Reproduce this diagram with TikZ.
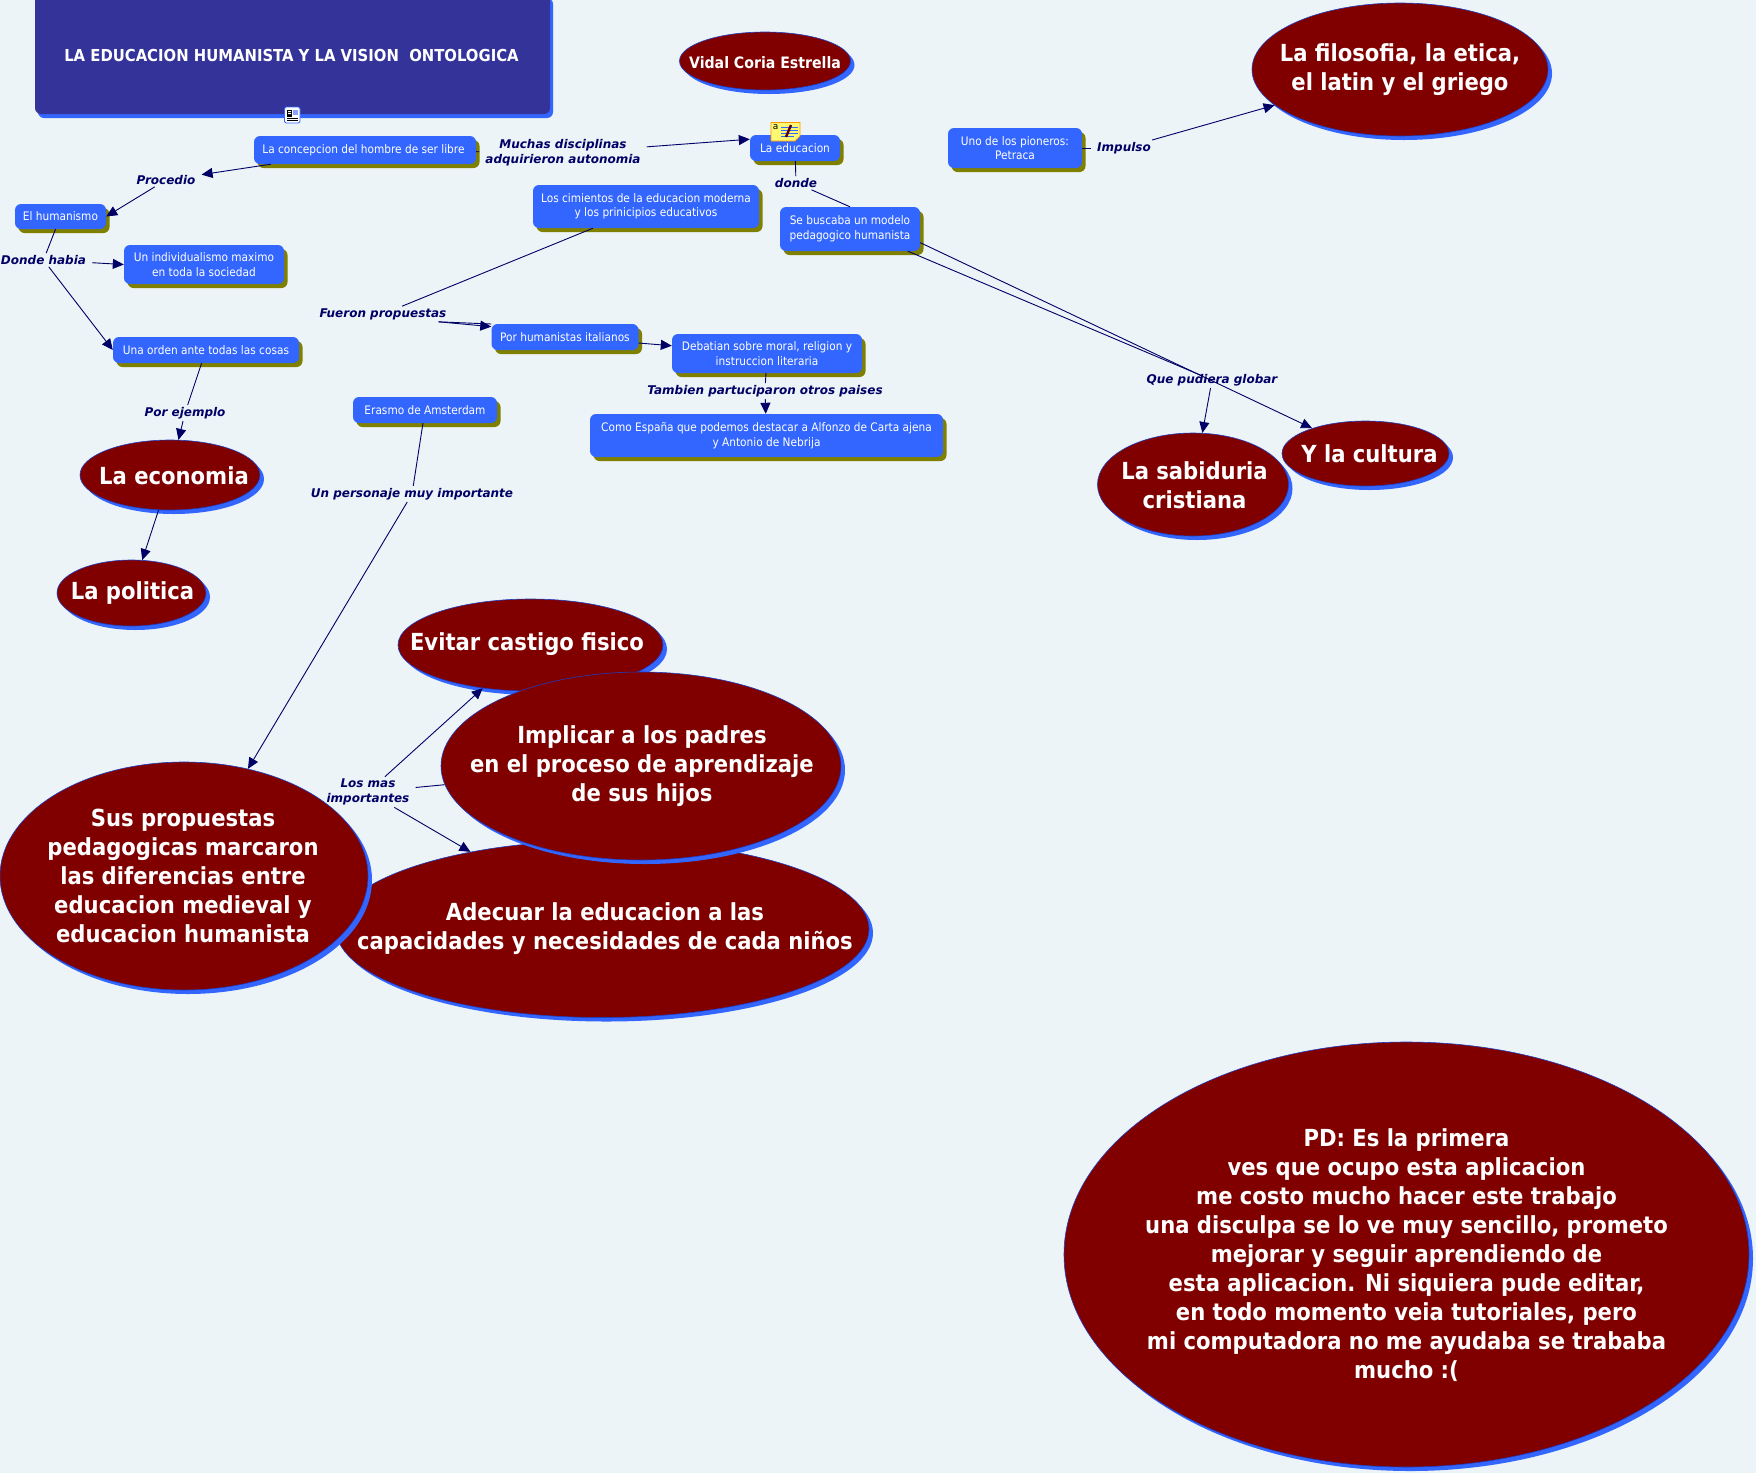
\documentclass[tikz,border=0pt]{standalone}
\usepackage{fontspec}
\setmainfont{DejaVu Sans}
\newfontfamily\boxfont{DejaVu Sans Condensed}
\newfontfamily\linkfont{DejaVu Sans}
\usetikzlibrary{shapes.geometric,shadows,arrows.meta}
\definecolor{bgc}{HTML}{ECF4F7}
\definecolor{boxc}{HTML}{3366FF}
\definecolor{shc}{HTML}{808000}
\definecolor{marc}{HTML}{800000}
\definecolor{navc}{HTML}{000066}
\definecolor{titc}{HTML}{333399}
\tikzset{
  x=1pt,y=-1pt,
  cbox/.style={rectangle,rounded corners=6pt,fill=boxc,inner sep=0pt,align=center,text=white,
     font=\boxfont\fontsize{11.75}{14.5}\selectfont,
     copy shadow={draw=none,fill=shc,shadow xshift=3.5pt,shadow yshift=-4pt}},
  ell/.style={ellipse,fill=marc,draw=boxc!60!navc,line width=.6pt,inner sep=0pt,
     copy shadow={draw=none,fill=boxc,shadow xshift=4pt,shadow yshift=-4pt}},
  elltext/.style={align=center,text=white,inner sep=0pt,font=\boxfont\bfseries\fontsize{23.5}{29}\selectfont},
  lnk/.style={align=center,text=navc,inner xsep=6pt,inner ysep=2pt,font=\linkfont\bfseries\itshape\fontsize{12}{15}\selectfont},
  con/.style={draw=navc,line width=.9pt},
  arr/.style={con,-{Triangle[length=11pt,width=10pt]}},
}
\newcommand{\bx}[6]{\node[cbox,minimum width=#4pt,minimum height=#5pt] (#1) at (#2,#3) {#6};}
\newcommand{\el}[7][0]{\node[ell,minimum width=#5pt,minimum height=#6pt] (#2) at (#3,#4) {};\node[elltext,xshift=#1pt,yshift=-.3pt] (#2T) at (#3,#4) {#7};}
\begin{document}
\begin{tikzpicture}
\path[use as bounding box,fill=bgc] (0,0) rectangle (1756,1473);
% title
\node[rectangle,rounded corners=6pt,fill=titc,inner sep=0pt,minimum width=515pt,minimum height=120pt,
  copy shadow={draw=none,fill=boxc,shadow xshift=3pt,shadow yshift=-4pt}] (title) at (292.5,54) {};
\node[align=center,text=white,inner sep=0pt,font=\boxfont\bfseries\fontsize{16.5}{20}\selectfont] (titleT) at (291.5,55) {LA EDUCACION HUMANISTA Y LA VISION\ \ ONTOLOGICA};
% boxes
\bx{conc}{365}{150}{222}{28}{\hspace*{-3pt}La concepcion del hombre de ser libre}
\bx{human}{60.5}{216.5}{91}{25}{El humanismo}
\bx{indiv}{204}{264.5}{160}{39}{Un individualismo maximo\\en toda la sociedad}
\bx{orden}{206}{350}{186}{26}{Una orden ante todas las cosas}
\bx{cimi}{646}{206.5}{226}{43}{Los cimientos de la educacion moderna\\y los prinicipios educativos}
\bx{educ}{795}{148}{90}{26}{La educacion}
\bx{busc}{850}{229}{140}{44}{Se buscaba un modelo\\pedagogico humanista}
\bx{uno}{1015}{148}{134}{40}{Uno de los pioneros:\\Petraca}
\bx{por}{565}{337}{147}{26}{Por humanistas italianos}
\bx{deba}{767}{353.5}{190}{39}{Debatian sobre moral, religion y\\instruccion literaria}
\bx{como}{766.5}{435.5}{353}{43}{Como España que podemos destacar a Alfonzo de Carta ajena\\y Antonio de Nebrija}
\bx{eras}{425}{410}{144}{26}{Erasmo de Amsterdam}
% ellipses
\node[ell,minimum width=171pt,minimum height=58pt] (vidal) at (765,61) {};
\node[elltext,font=\boxfont\bfseries\fontsize{15.7}{20}\selectfont] (vidalT) at (765,62.5) {Vidal Coria Estrella};
\el{filo}{1400}{69.5}{296}{133}{La filosofia, la etica,\\el latin y el griego}
\el[4]{econ}{170}{475}{180}{70}{La economia}
\el[1]{poli}{131.5}{593}{149}{66}{La politica}
\el[1.5]{sabi}{1193}{484.5}{191}{103}{La sabiduria\\cristiana}
\el[4]{cult}{1365.5}{453.5}{167}{65}{Y la cultura}
\el{adec}{602.5}{929}{533}{177}{}
\el{evit}{530.5}{645}{265}{92}{}
\el[1]{impl}{641}{766}{400}{188}{Implicar a los padres\\en el proceso de aprendizaje\\de sus hijos}
\el[-1]{prop}{184}{876}{368}{228}{Sus propuestas\\pedagogicas marcaron\\las diferencias entre\\educacion medieval y\\educacion humanista}
\node[elltext,yshift=-1pt] (adecT2) at (605,928) {Adecuar la educacion a las\\capacidades y necesidades de cada niños};
\node[elltext,yshift=-1pt] (evitT2) at (527,643) {Evitar castigo fisico};
\el{pd}{1406.5}{1254.5}{685}{425}{PD: Es la primera\\ves que ocupo esta aplicacion\\me costo mucho hacer este trabajo\\una disculpa se lo ve muy sencillo, prometo\\mejorar y seguir aprendiendo de\\esta aplicacion. Ni siquiera pude editar,\\en todo momento veia tutoriales, pero\\mi computadora no me ayudaba se trababa\\mucho :(}
% link labels
\node[lnk] (lproc) at (166,180) {Procedio};
\node[lnk] (lmuch) at (563,153) {Muchas disciplinas\\adquirieron autonomia};
\node[lnk] (ldond) at (796,183) {donde};
\node[lnk] (limpu) at (1124,148) {Impulso};
\node[lnk] (ldonh) at (43.5,260) {Donde habia};
\node[lnk] (lfuer) at (383,314) {Fueron propuestas};
\node[lnk] (ltamb) at (765,391) {Tambien partuciparon otros paises};
\node[lnk] (lque) at (1212,380) {Que pudiera globar};
\node[lnk] (lpore) at (185,413) {Por ejemplo};
\node[lnk] (lpers) at (412,494) {Un personaje muy importante};
\node[lnk] (llos) at (368,792) {Los mas\\importantes};
% connectors
\draw[arr] (conc) -- (lproc);
\draw[arr] (lproc) -- (human.east);
\draw[con] (conc) -- (lmuch);
\draw[arr] (lmuch) -- (educ.169);
\draw[con] (educ) -- (ldond);
\draw[con] (ldond) -- (busc.north);
\draw[arr] (busc.-11) -- (cult);
\draw[con,shorten >=12pt] (busc.-21) -- (lque.center);
\draw[arr] (lque) -- (sabi);
\draw[con] (uno) -- (limpu);
\draw[arr] (limpu) -- (filo);
\draw[con] (human) -- (ldonh);
\draw[arr] (ldonh) -- (indiv.west);
\draw[arr] (ldonh) -- (orden.west);
\draw[con] (orden) -- (lpore);
\draw[arr] (lpore) -- (econ);
\draw[arr] (econ) -- (poli);
\draw[con] (cimi) -- (lfuer);
\draw[arr] (lfuer.-8.5) -- (por.172);
\draw[con] (lfuer.-8) -- (por.170.5);
\draw[arr] (por) -- (deba);
\draw[con] (deba) -- (ltamb);
\draw[arr] (ltamb) -- (como);
\draw[con] (eras) -- (lpers);
\draw[arr] (lpers) -- (prop);
\draw[arr] (llos) -- (evit);
\draw[con] (llos) -- (impl);
\draw[arr] (llos) -- (adec);
% icons
\draw[fill=white,draw=boxc,rounded corners=1.5pt,line width=.8pt] (284.5,107) rectangle (300,123);
\fill[black] (287,110) rectangle (292,117);
\fill[white] (288,111) rectangle (291,112) (288,113) rectangle (291,114);
\fill[boxc!60] (293,109.5) rectangle (298,115);
\draw[black,line width=.7pt] (287,118.5) -- (298,118.5) (287,120.5) -- (298,120.5);
\draw[fill=yellow!55!white,draw=orange!80!yellow,line width=.7pt] (771,122.5) -- (800,122.5) -- (800,136) -- (795,141) -- (771,141) -- cycle;
\node[inner sep=0pt,font=\linkfont\fontsize{9}{9}\selectfont,text=black] (icona) at (775.5,127.5) {a};
\draw[boxc,line width=.9pt] (781,127) -- (798,127) (781,130) -- (798,130) (781,133) -- (798,133) (781,136) -- (794,136);
\draw[marc!70!black,line width=2.4pt] (786,137) -- (791,125);
\end{tikzpicture}
\end{document}
